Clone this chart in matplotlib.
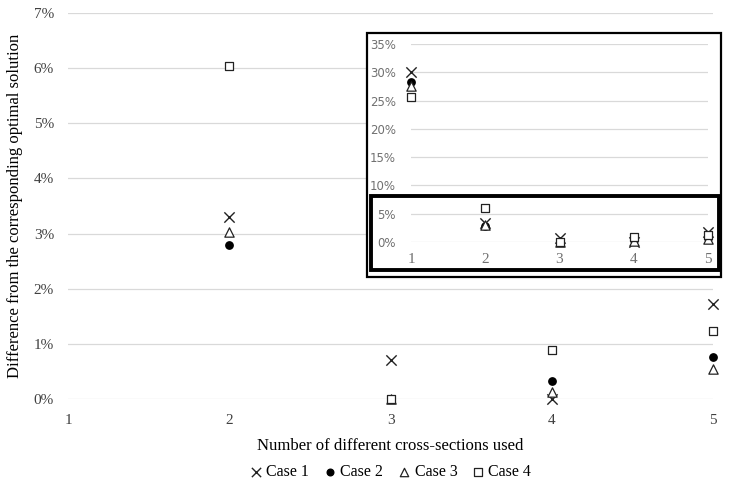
import numpy as np
import matplotlib; matplotlib.use("Agg")
import matplotlib.pyplot as plt
from matplotlib.patches import Rectangle
from matplotlib.ticker import PercentFormatter

# number of different cross-sections used
x_sections = [1, 2, 3, 4, 5]
# difference from optimal solution (%)
case1 = [30.1, 3.30, 0.71, 0.00, 1.72]
case2 = [28.2, 2.79, 0.00, 0.33, 0.76]
case3 = [27.6, 3.03, 0.00, 0.13, 0.54]
case4 = [25.7, 6.03, 0.00, 0.89, 1.23]
case_names = ["Case 1", "Case 2", "Case 3", "Case 4"]

W, H = 732, 486
plt.rcParams["font.family"] = ["Liberation Serif", "DejaVu Serif"]
fig = plt.figure(figsize=(W/100, H/100), dpi=100)

def fx(px): return px / W
def fy(py): return 1 - py / H

styles = [dict(marker="x", color="#222222", s=55, linewidths=1.0),
          dict(marker="o", color="black", s=28),
          dict(marker="^", facecolor="white", edgecolor="#222222", s=45, linewidths=0.9),
          dict(marker="s", facecolor="white", edgecolor="#222222", s=40, linewidths=0.9)]
series = [case1, case2, case3, case4]

# main axes
ax = fig.add_axes([fx(68), fy(399), fx(713) - fx(68), fy(13) - fy(399)])
for ys, st, nm in zip(series, styles, case_names):
    ax.scatter(x_sections, ys, label=nm, zorder=3, clip_on=False, **st)
ax.set_xlim(1, 5); ax.set_ylim(0, 7)
ax.set_yticks(range(0, 8)); ax.set_xticks(x_sections)
ax.yaxis.set_major_formatter(PercentFormatter(decimals=0))
ax.grid(axis="y", color="#d9d9d9", lw=0.9)
for s in ax.spines.values(): s.set_visible(False)
ax.tick_params(length=0, labelsize=11, colors="#404040", pad=10)
ax.tick_params(axis="x", pad=11)
ax.set_xlabel("Number of different cross-sections used", fontsize=12, labelpad=8)
ax.set_ylabel("Difference from the corresponding optimal solution", fontsize=12, labelpad=8)
leg = ax.legend(loc="upper center", bbox_to_anchor=(0.5, -0.152), ncol=4, frameon=False,
                fontsize=11.5, handlelength=0.8, handletextpad=0.25, columnspacing=0.9,
                borderaxespad=0, markerscale=0.9)

# inset frame
fig.patches.append(Rectangle((fx(367), fy(277)), fx(721) - fx(367), fy(33) - fy(277),
                             transform=fig.transFigure, facecolor="white", edgecolor="black",
                             lw=1.6, zorder=5))
ins = fig.add_axes([fx(411), fy(242), fx(708) - fx(411), fy(44) - fy(242)], zorder=6)
ins.patch.set_alpha(0)
for ys, st in zip(series, styles):
    ins.scatter(x_sections, ys, zorder=3, clip_on=False, **st)
ins.set_xlim(1, 5); ins.set_ylim(0, 35)
ins.set_yticks(range(0, 40, 5)); ins.set_xticks(x_sections)
ins.yaxis.set_major_formatter(PercentFormatter(decimals=0))
ins.grid(axis="y", color="#d9d9d9", lw=0.9)
for s in ins.spines.values(): s.set_visible(False)
ins.tick_params(axis="y", length=0, labelsize=8.5, colors="#707070", pad=11, labelfontfamily="DejaVu Sans")
ins.tick_params(axis="x", length=0, labelsize=11, colors="#707070", pad=8)
# highlight box for the 0-7% range
fig.patches.append(Rectangle((fx(371), fy(270)), fx(719) - fx(371), fy(196) - fy(270),
                             transform=fig.transFigure, facecolor="none", edgecolor="black",
                             lw=2.8, zorder=7))

fig.savefig("out.png", dpi=100)
